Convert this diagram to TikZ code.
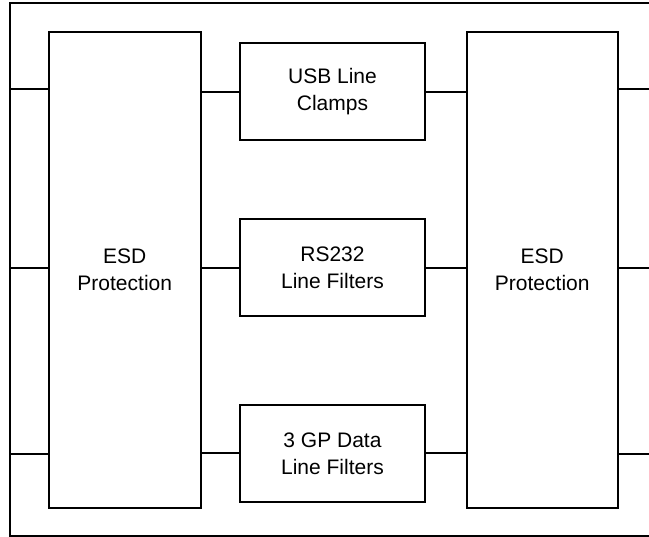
\documentclass[tikz,border=0pt]{standalone}
\usepackage{fontspec}
\setmainfont{Liberation Sans}
\begin{document}
\begin{tikzpicture}[x=1pt,y=-1pt,
  box/.style={draw=black, line width=2pt, rectangle, inner sep=0pt, outer sep=0pt,
    align=center, font=\fontsize{21}{27}\selectfont},
  wire/.style={draw=black, line width=2pt}]
\useasboundingbox (0,0) rectangle (649,537);
\clip (0,0) rectangle (649,537);
% outer frame
\draw[line width=2pt] (10,3.5) rectangle (670,536.5);
% ESD blocks
\node[box, minimum width=152.5pt, minimum height=475.5pt] (esdL) at (124.75,270.25) {ESD\\Protection};
\node[box, minimum width=151.5pt, minimum height=475.5pt] (esdR) at (542.25,270.25) {ESD\\Protection};
% middle blocks
\node[box, minimum width=185pt, minimum height=96.5pt] (usb) at (332.5,91.75) {USB Line\\Clamps};
\node[box, minimum width=185pt, minimum height=97pt] (rs) at (332.5,268) {RS232\\Line Filters};
\node[box, minimum width=185pt, minimum height=97pt] (gp) at (332.5,453.5) {3 GP Data\\Line Filters};
% free ends
\coordinate (inA) at (10,89.5);
\coordinate (inB) at (10,268);
\coordinate (inC) at (10,454.5);
\coordinate (outA) at (649,89.5);
\coordinate (outB) at (649,268);
\coordinate (outC) at (649,454.5);
% connectors
\draw[wire] (inA) -- (esdL.west |- inA);
\draw[wire] (inB) -- (esdL.west |- inB);
\draw[wire] (inC) -- (esdL.west |- inC);
\draw[wire] (esdR.east |- outA) -- (outA);
\draw[wire] (esdR.east |- outB) -- (outB);
\draw[wire] (esdR.east |- outC) -- (outC);
\draw[wire] (esdL.east |- usb.west) -- (usb.west);
\draw[wire] (usb.east) -- (esdR.west |- usb.east);
\draw[wire] (esdL.east |- rs.west) -- (rs.west);
\draw[wire] (rs.east) -- (esdR.west |- rs.east);
\draw[wire] (esdL.east |- gp.west) -- (gp.west);
\draw[wire] (gp.east) -- (esdR.west |- gp.east);
\end{tikzpicture}
\end{document}
